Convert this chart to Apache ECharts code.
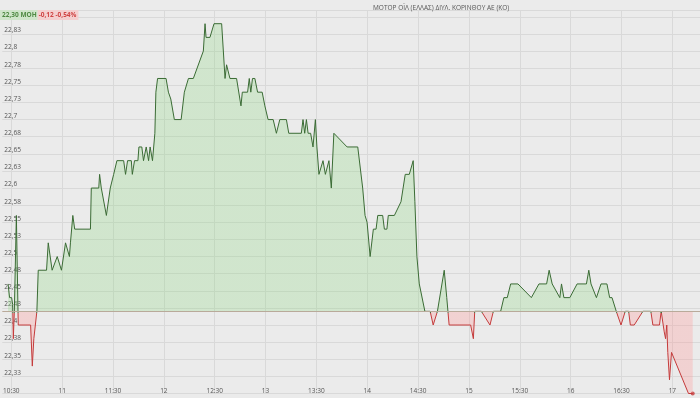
<!DOCTYPE html>
<html>
<head>
<meta charset="utf-8">
<script src="https://cdn.jsdelivr.net/npm/echarts@6/dist/echarts.min.js"></script>
<style>
  html, body { margin: 0; padding: 0; background: #ebebeb; }
  #chart { width: 700px; height: 398px; }
</style>
</head>
<body>
<div id="chart"></div>
<script>
// ΜΟΗ intraday trades, time in minutes after midnight
const tradeMinutes = [
  628.1, 629.0, 630.2, 630.8, 631.2, 631.8, 633.0, 634.1, 641.4, 642.4,
  643.3, 644.3, 645.1, 645.9, 650.8, 651.8, 654.1, 657.1, 659.6, 662.0,
  664.3, 664.9, 666.3, 667.4, 676.7, 677.2, 681.6, 682.1, 683.1, 686.1,
  687.0, 688.4, 690.4, 692.3, 696.3, 697.4, 698.6, 700.8, 701.4, 702.7,
  704.7, 705.3, 707.0, 708.0, 709.6, 711.0, 711.9, 713.3, 714.3, 714.7,
  715.3, 716.3, 721.3, 722.7, 724.1, 726.2, 730.2, 732.1, 733.1, 734.5,
  737.4, 743.3, 744.3, 744.9, 747.2, 749.6, 754.1, 756.1, 757.0, 759.0,
  762.9, 765.5, 766.3, 769.4, 770.4, 771.3, 772.3, 773.7, 775.3, 778.0,
  779.6, 781.5, 784.5, 786.4, 788.4, 792.3, 793.7, 801.1, 802.1, 803.1,
  804.1, 805.1, 806.6, 808.0, 809.4, 810.3, 811.5, 813.9, 815.3, 816.4,
  817.4, 818.8, 820.3, 828.1, 834.4, 837.3, 838.7, 839.9, 841.7, 843.6,
  845.2, 846.2, 849.1, 850.1, 851.6, 852.4, 856.0, 859.9, 862.4, 864.8,
  867.1, 868.1, 869.3, 870.7, 874.0, 877.1, 878.9, 881.4, 885.4, 886.9,
  888.3, 901.0, 902.6, 903.4, 907.3, 912.4, 914.4, 918.7, 920.6, 922.6,
  924.6, 928.9, 936.8, 941.3, 945.8, 947.3, 949.1, 953.6, 954.6, 956.0,
  959.5, 963.8, 969.3, 970.7, 972.0, 975.2, 977.9, 981.4, 983.0, 984.4,
  986.9, 989.7, 992.2, 994.2, 995.2, 997.5, 1002.6, 1007.3, 1008.5, 1012.4,
  1013.4, 1015.2, 1016.0, 1016.7, 1017.3, 1018.3, 1019.5, 1029.5, 1032.0
]
const prices = [
  22.46, 22.44, 22.44, 22.43, 22.38, 22.42, 22.56, 22.40, 22.40, 22.34,
  22.38, 22.38, 22.42, 22.48, 22.48, 22.52, 22.48, 22.50, 22.48, 22.52,
  22.50, 22.52, 22.56, 22.54, 22.54, 22.60, 22.60, 22.62, 22.60, 22.56,
  22.56, 22.60, 22.62, 22.64, 22.64, 22.62, 22.64, 22.64, 22.62, 22.64,
  22.64, 22.66, 22.66, 22.64, 22.66, 22.64, 22.66, 22.64, 22.64, 22.68,
  22.74, 22.76, 22.76, 22.74, 22.73, 22.70, 22.70, 22.74, 22.74, 22.76,
  22.76, 22.80, 22.84, 22.82, 22.82, 22.84, 22.84, 22.76, 22.78, 22.76,
  22.76, 22.72, 22.74, 22.74, 22.76, 22.74, 22.76, 22.76, 22.74, 22.74,
  22.72, 22.70, 22.70, 22.68, 22.70, 22.70, 22.68, 22.68, 22.70, 22.68,
  22.70, 22.68, 22.68, 22.66, 22.70, 22.66, 22.62, 22.64, 22.62, 22.62,
  22.64, 22.60, 22.68, 22.66, 22.66, 22.60, 22.56, 22.55, 22.50, 22.54,
  22.54, 22.56, 22.56, 22.54, 22.54, 22.56, 22.56, 22.58, 22.62, 22.62,
  22.64, 22.58, 22.50, 22.46, 22.42, 22.42, 22.40, 22.42, 22.48, 22.44,
  22.40, 22.40, 22.38, 22.42, 22.42, 22.40, 22.42, 22.42, 22.44, 22.44,
  22.46, 22.46, 22.44, 22.46, 22.46, 22.48, 22.46, 22.44, 22.46, 22.44,
  22.44, 22.46, 22.46, 22.48, 22.46, 22.44, 22.46, 22.46, 22.44, 22.44,
  22.42, 22.40, 22.42, 22.42, 22.40, 22.40, 22.42, 22.42, 22.40, 22.40,
  22.42, 22.39, 22.38, 22.40, 22.36, 22.32, 22.36, 22.30, 22.30
]
const prevClose = 22.42
const timeTicks = [630, 660, 690, 720, 750, 780, 810, 840, 870, 900, 930, 960, 990, 1020]
const timeLabels = ['10:30', '11', '11:30', '12', '12:30', '13', '13:30', '14', '14:30', '15', '15:30', '16', '16:30', '17']
const stockName = 'ΜΟΤΟΡ ΟΪΛ (ΕΛΛΑΣ) ΔΙΥΛ. ΚΟΡΙΝΘΟΥ ΑΕ (ΚΟ)'
const headerPrice = '22,30 ΜΟΗ'
const headerChange = '-0,12 -0,54%'

const FONT = 'Open Sans'
const points = tradeMinutes.map((t, i) => [t, prices[i]])
const last = points[points.length - 1]

// split colour at previous close, as a fraction of the price range (top = max)
const hi = Math.max(...prices)
const lo = Math.min(...prices)
const split = (hi - prevClose) / (hi - lo)

function splitGradient(up, down) {
  return new echarts.graphic.LinearGradient(0, 0, 0, 1, [
    { offset: 0, color: up },
    { offset: split, color: up },
    { offset: split, color: down },
    { offset: 1, color: down }
  ])
}

function priceLabel(v) {
  let r = Math.round(Math.round(v * 1000) / 10 + 1e-6) / 100
  return String(r).replace('.', ',')
}

let myChart = echarts.init(document.getElementById('chart'))
myChart.setOption({
  animation: false,
  backgroundColor: '#ebebeb',
  textStyle: { fontFamily: FONT },
  title: [
    {
      text: stockName,
      left: 368,
      top: 0,
      textStyle: { fontSize: 6.5, fontWeight: 'normal', color: '#555', fontFamily: FONT }
    },
    {
      text: '{g|' + headerPrice + '}{r|' + headerChange + '}',
      left: 0,
      top: 10,
      padding: 0,
      textStyle: {
        fontSize: 6.5,
        rich: {
          g: { color: '#4f8a43', backgroundColor: '#cfe5ca', fontSize: 6.5, fontFamily: FONT, padding: [2, 1, 1, 2] },
          r: { color: '#d04545', backgroundColor: '#f4cfcf', fontSize: 6.5, fontFamily: FONT, padding: [2, 2, 1, 1] }
        }
      }
    }
  ],
  grid: { left: 0, right: 0, top: 10, bottom: 4.5 },
  xAxis: {
    type: 'value',
    min: 624.7,
    max: 1036.3,
    axisLine: { show: false },
    axisTick: { show: false, customValues: timeTicks },
    axisLabel: {
      customValues: timeTicks,
      margin: -6,
      fontSize: 6.5,
      color: '#555',
      fontFamily: FONT,
      formatter: v => timeLabels[timeTicks.indexOf(Math.round(v))]
    },
    splitLine: { show: true, lineStyle: { color: '#d9d9d9', width: 1 } }
  },
  yAxis: {
    type: 'value',
    min: 22.3,
    max: 22.86,
    interval: 0.025,
    axisLine: { show: false },
    axisTick: { show: false },
    axisLabel: {
      inside: true,
      margin: 2,
      fontSize: 6.5,
      color: '#555',
      fontFamily: FONT,
      verticalAlign: 'bottom',
      showMinLabel: false,
      showMaxLabel: false,
      formatter: priceLabel
    },
    splitLine: { lineStyle: { color: '#d9d9d9', width: 1 } }
  },
  series: [
    {
      type: 'line',
      data: points,
      showSymbol: false,
      silent: true,
      lineStyle: { width: 0 },
      areaStyle: {
        origin: prevClose,
        opacity: 1,
        color: splitGradient('rgba(140,215,128,0.28)', 'rgba(255,150,150,0.3)')
      }
    },
    {
      type: 'line',
      data: points,
      showSymbol: false,
      silent: true,
      lineStyle: { width: 1, color: splitGradient('#3a6b34', '#c43a3a') },
      markLine: {
        silent: true,
        symbol: 'none',
        label: { show: false },
        lineStyle: { color: '#b9aa9a', width: 1, type: 'solid' },
        data: [{ yAxis: prevClose }]
      }
    },
    {
      type: 'scatter',
      data: [last],
      symbol: 'circle',
      symbolSize: 4,
      silent: true,
      itemStyle: { color: '#c43a3a' }
    }
  ]
})
</script>
</body>
</html>
